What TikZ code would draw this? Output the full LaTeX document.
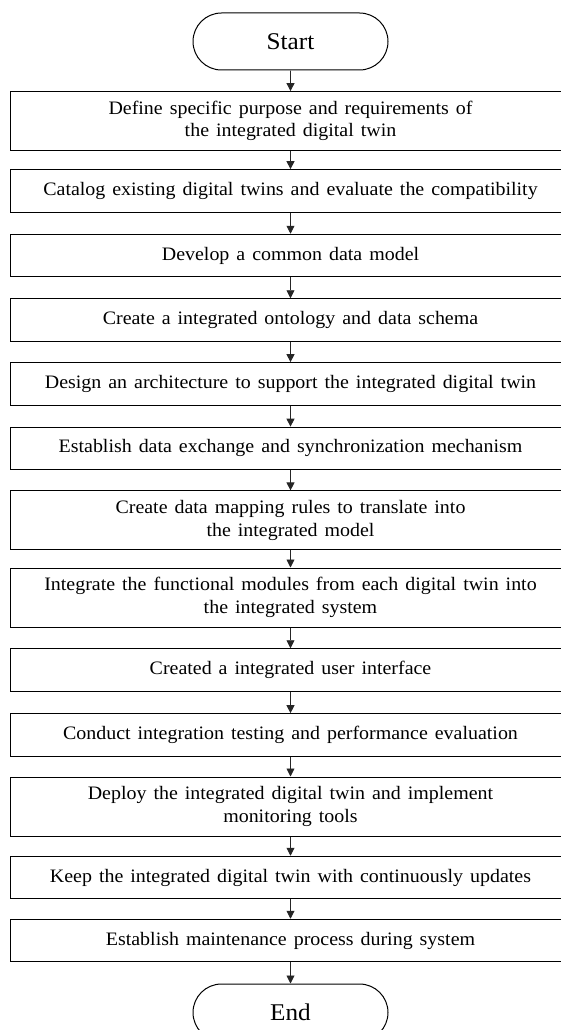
\documentclass[tikz,border=0pt]{standalone}
\usepackage{fontspec}
\setmainfont{Liberation Serif}[WordSpace=1.4, FakeStretch=1.05]
\usetikzlibrary{shapes.misc,arrows.meta}

\tikzset{
  stepbox/.style={draw=black, line width=1pt, rectangle, inner sep=0pt,
    minimum width=561pt, minimum height=42.5pt, align=center,
    font=\fontsize{19}{22.5}\selectfont},
  twoline/.style={minimum height=59pt},
  terminal/.style={draw=black, line width=1pt, rounded rectangle,
    minimum width=195pt, minimum height=57pt, inner sep=0pt,
    font=\fontsize{24}{28}\selectfont},
  flow/.style={draw=black!85, line width=0.9pt,
    -{Triangle[width=8pt,length=8pt]}}
}

\begin{document}
\begin{tikzpicture}[x=1pt,y=-1pt]
\useasboundingbox (0,0) rectangle (561,1030);

\node[terminal] (start) at (290.5,41.5) {Start};
\node[stepbox,twoline] (s1) at (290.5,121.1) {Define specific purpose and requirements of\\the integrated digital twin};
\node[stepbox] (s2) at (290.5,190.9) {Catalog existing digital twins and evaluate the compatibility};
\node[stepbox] (s3) at (290.5,255.5) {Develop a common data model};
\node[stepbox] (s4) at (290.5,320) {Create a integrated ontology and data schema};
\node[stepbox] (s5) at (290.5,383.9) {Design an architecture to support the integrated digital twin};
\node[stepbox] (s6) at (290.5,448.4) {Establish data exchange and synchronization mechanism};
\node[stepbox,twoline] (s7) at (290.5,520.4) {Create data mapping rules to translate into\\the integrated model};
\node[stepbox,twoline] (s8) at (290.5,597.5) {Integrate the functional modules from each digital twin into\\the integrated system};
\node[stepbox] (s9) at (290.5,670) {Created a integrated user interface};
\node[stepbox] (s10) at (290.5,734.9) {Conduct integration testing and performance evaluation};
\node[stepbox,twoline] (s11) at (290.5,806.5) {Deploy the integrated digital twin and implement\\monitoring tools};
\node[stepbox] (s12) at (290.5,877.5) {Keep the integrated digital twin with continuously updates};
\node[stepbox] (s13) at (290.5,940.5) {Establish maintenance process during system};
\node[terminal] (end) at (290.5,1012.5) {End};

\foreach \a/\b in {start/s1, s1/s2, s2/s3, s3/s4, s4/s5, s5/s6, s6/s7,
  s7/s8, s8/s9, s9/s10, s10/s11, s11/s12, s12/s13, s13/end}
  \draw[flow] (\a) -- (\b);
\end{tikzpicture}
\end{document}
